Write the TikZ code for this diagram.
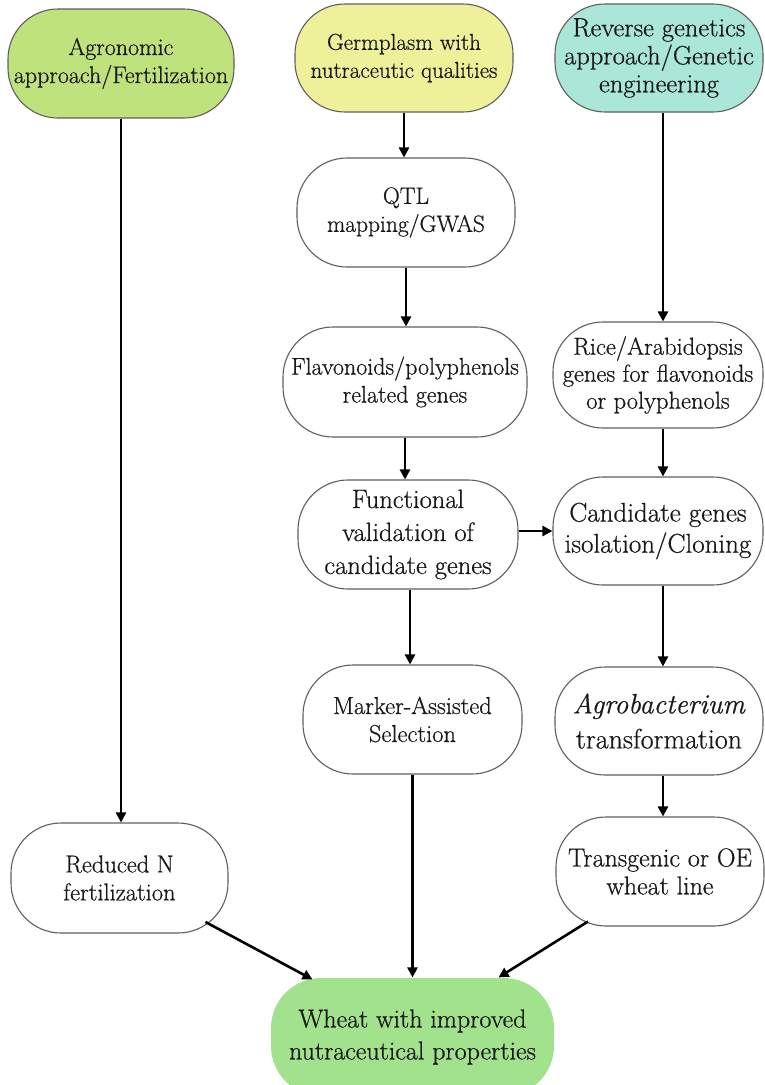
\documentclass[tikz,border=0pt]{standalone}
\usepackage{fontspec}
\setmainfont{Latin Modern Roman}[FakeBold=0.6]
\usetikzlibrary{arrows.meta,calc}
\definecolor{agrogreen}{RGB}{192,226,124}
\definecolor{germyellow}{RGB}{238,241,154}
\definecolor{revteal}{RGB}{170,231,216}
\definecolor{wheatgreen}{RGB}{162,226,140}
\definecolor{edgegray}{RGB}{95,95,95}
\definecolor{txt}{RGB}{25,25,25}
\begin{document}
\begin{tikzpicture}[x=1pt,y=-1pt,
  box/.style={draw=edgegray, line width=1.1pt, rounded corners=50pt, align=center,
    inner sep=0pt, text=txt, fill=white},
  fsA/.style={font=\fontsize{24}{28}\selectfont},
  fsB/.style={font=\fontsize{23}{28}\selectfont},
  fsR/.style={font=\fontsize{26.5}{28}\selectfont},
  fsQ/.style={font=\fontsize{23.5}{28}\selectfont},
  fsF/.style={font=\fontsize{24}{28}\selectfont},
  fsRi/.style={font=\fontsize{24.5}{27}\selectfont},
  fsFu/.style={font=\fontsize{26.5}{33}\selectfont},
  fsC/.style={font=\fontsize{27}{31}\selectfont},
  fsM/.style={font=\fontsize{24.5}{28}\selectfont},
  fsAg/.style={font=\fontsize{28}{35}\selectfont},
  fsN/.style={font=\fontsize{24.5}{28}\selectfont},
  fsT/.style={font=\fontsize{26}{28}\selectfont},
  fsW/.style={font=\fontsize{26}{32}\selectfont},
  arr/.style={-{Triangle[length=10pt,width=10pt]}, line width=2.6pt, black},
]
\useasboundingbox (0,0) rectangle (765,1085);

% top row
\node[box, fsA, fill=agrogreen, minimum width=226pt, minimum height=109pt] (A1) at (121,63.5)
  {Agronomic\\approach/Fertilization};
\node[box, fsB, fill=germyellow, minimum width=218pt, minimum height=108pt] (G) at (404,58)
  {Germplasm with\\nutraceutic qualities};
\node[box, fsR, fill=revteal, minimum width=208pt, minimum height=108pt] (R) at (659,58)
  {Reverse genetics\\approach/Genetic\\engineering};

% middle column
\node[box, fsQ, minimum width=218pt, minimum height=109pt] (Q) at (406,212.5)
  {QTL\\mapping/GWAS};
\node[box, fsF, minimum width=244pt, minimum height=110pt] (F) at (405,382)
  {Flavonoids/polyphenols\\related genes};
\node[box, fsFu, minimum width=220pt, minimum height=109pt] (Fu) at (408,534.5)
  {Functional\\validation of\\candidate genes};
\node[box, fsM, minimum width=219pt, minimum height=109pt] (M) at (412.5,719.5)
  {Marker-Assisted\\Selection};

% right column
\node[box, fsRi, minimum width=210pt, minimum height=106pt] (Ri) at (658,375)
  {Rice/Arabidopsis\\genes for flavonoids\\or polyphenols};
\node[box, fsC, minimum width=210pt, minimum height=108pt] (C) at (658,531)
  {Candidate genes\\isolation/Cloning};
\node[box, fsAg, minimum width=208pt, minimum height=108pt] (Ag) at (659,721)
  {\textit{Agrobacterium}\\transformation};
\node[box, fsT, minimum width=208pt, minimum height=109pt] (T) at (660,871.5)
  {Transgenic or OE\\wheat line};

% left column
\node[box, fsN, minimum width=217pt, minimum height=110pt] (N) at (119.5,878)
  {Reduced N\\fertilization};

% bottom
\node[box, fsW, draw=none, fill=wheatgreen, minimum width=283pt, minimum height=118pt] (W) at (412.5,1037)
  {Wheat with improved\\nutraceutical properties};

% arrows
\draw[arr] (A1.south) -- (A1.south |- N.north);
\draw[arr] (G.south) -- (G.south |- Q.north);
\draw[arr] (Q.south) -- (Q.south |- F.north);
\draw[arr] (F.south) -- (F.south |- Fu.north);
\draw[arr] ($(Fu.south)+(2,0)$) -- ($(Fu.south |- M.north)+(2,0)$);
\draw[arr] (M.south) -- (M.south |- W.north);
\draw[arr] ($(R.south)+(4,0)$) -- ($(R.south |- Ri.north)+(4,0)$);
\draw[arr] ($(Ri.south)+(5,0)$) -- ($(Ri.south |- C.north)+(5,0)$);
\draw[arr] ($(C.south)+(5,0)$) -- ($(C.south |- Ag.north)+(5,0)$);
\draw[arr] ($(Ag.south)+(4,0)$) -- ($(Ag.south |- T.north)+(4,0)$);
\draw[arr] (Fu.east |- C.west) -- (C.west);
\draw[arr] ($(N.center)+(86,44)$) -- ($(W.north)+(-100,2)$);
\draw[arr] ($(T.center)+(-72,50)$) -- ($(W.north)+(86,0)$);
\end{tikzpicture}
\end{document}
